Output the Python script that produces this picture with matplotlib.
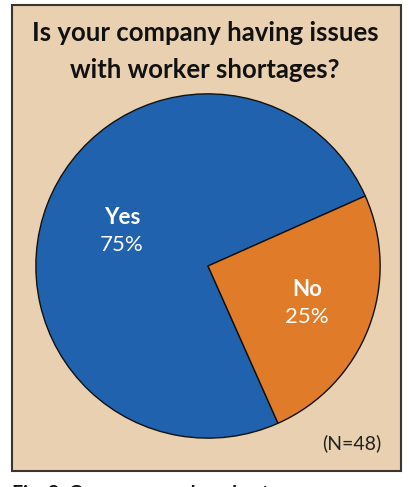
import matplotlib.pyplot as plt
from matplotlib.patches import Rectangle

answers = ["Yes", "No"]
shares = [75, 25]
colors = ["#2162ae", "#e07b2a"]
n_responses = 48

plt.rcParams['font.family'] = ['Lato', 'DejaVu Sans']

fig = plt.figure(figsize=(4.10, 4.87), dpi=100)
fig.patch.set_facecolor("white")

# framed background panel, kept behind the pie axes
panel = Rectangle((12 / 410, 1 - 471 / 487), 389 / 410, 466 / 487,
                  transform=fig.transFigure, facecolor="#e8d0b0",
                  edgecolor="#3a3530", linewidth=1.5, zorder=-1)
fig.patches.append(panel)

fig.text(0.5, 1 - 33 / 487, "Is your company having issues", ha="center",
         va="center", fontsize=18.5, fontweight="bold", color="#111111")
fig.text(0.5, 1 - 70 / 487, "with worker shortages?", ha="center",
         va="center", fontsize=18.5, fontweight="bold", color="#111111")

ax = fig.add_axes([35 / 410, 1 - 439 / 487, 346 / 410, 346 / 487])
ax.set_facecolor("none")
wedges, _ = ax.pie(shares, colors=colors, startangle=24, counterclock=True,
                   wedgeprops=dict(edgecolor="#111111", linewidth=1.0))
ax.set_xlim(-1.005, 1.005)
ax.set_ylim(-1.005, 1.005)
ax.set_aspect("equal")

label_pos = [(122, 218), (307, 290)]
for (x, y), name, val in zip(label_pos, answers, shares):
    fig.text(x / 410, 1 - y / 487, name, ha="center", va="center",
             fontsize=16, fontweight="bold", color="white")
    fig.text(x / 410, 1 - (y + 27) / 487, f"{val}%", ha="center",
             va="center", fontsize=16, color="white")

fig.text(352 / 410, 1 - 443 / 487, f"(N={n_responses})", ha="center",
         va="center", fontsize=14, color="#222222")

# caption runs off the bottom edge
fig.text(12 / 410, 1 - 494 / 487, "Fig. 3: Company worker shortages",
         ha="left", va="center", fontsize=14, fontweight="bold",
         color="#111111")

fig.savefig("out.png", dpi=100, facecolor=fig.get_facecolor())
